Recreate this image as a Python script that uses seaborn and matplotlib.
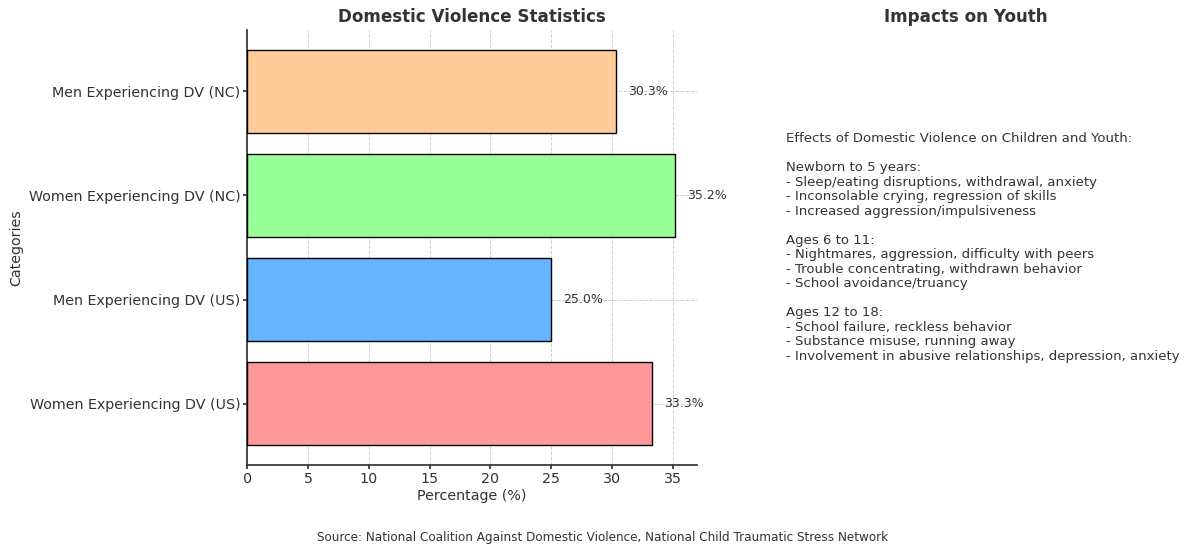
import matplotlib
matplotlib.use("Agg")
import matplotlib.pyplot as plt
import seaborn as sns
import pandas as pd

categories = ["Women Experiencing DV (US)", "Men Experiencing DV (US)",
              "Women Experiencing DV (NC)", "Men Experiencing DV (NC)"]
percentages = [33.3, 25.0, 35.2, 30.3]
colors = ["#ff9999", "#66b3ff", "#99ff99", "#ffcc99"]

youth_text = (
    "Effects of Domestic Violence on Children and Youth:\n\n"
    "Newborn to 5 years:\n"
    "- Sleep/eating disruptions, withdrawal, anxiety\n"
    "- Inconsolable crying, regression of skills\n"
    "- Increased aggression/impulsiveness\n\n"
    "Ages 6 to 11:\n"
    "- Nightmares, aggression, difficulty with peers\n"
    "- Trouble concentrating, withdrawn behavior\n"
    "- School avoidance/truancy\n\n"
    "Ages 12 to 18:\n"
    "- School failure, reckless behavior\n"
    "- Substance misuse, running away\n"
    "- Involvement in abusive relationships, depression, anxiety"
)
source = "Source: National Coalition Against Domestic Violence, National Child Traumatic Stress Network"

sns.set_theme(style="ticks")
plt.rcParams["font.family"] = ["DejaVu Sans"]
text_color = "#333333"

df = pd.DataFrame({"category": categories, "pct": percentages})
order = categories[::-1]
palette = dict(zip(categories, colors))

fig = plt.figure(figsize=(12, 5.53), dpi=100)
ax = fig.add_axes([0.206, 0.159, 0.375, 0.787])
ax2 = fig.add_axes([0.655, 0.159, 0.30, 0.787])

sns.barplot(data=df, y="category", x="pct", hue="category", order=order,
            hue_order=order, palette=palette, saturation=1, edgecolor="black",
            linewidth=1, width=0.8, legend=False, ax=ax, zorder=3)
ax.set_xlim(0, 37)
ax.set_ylim(3.59, -0.59)
ax.set_xticks(range(0, 40, 5))
ax.grid(True, linestyle="--", color="#d0d0d0", linewidth=0.7, zorder=0)
ax.set_axisbelow(True)
sns.despine(ax=ax)
ax.spines["left"].set_color(text_color)
ax.spines["bottom"].set_color(text_color)
ax.tick_params(colors=text_color, labelsize=10.3, length=3, pad=2)
ax.set_xlabel("Percentage (%)", fontsize=10.3, color=text_color, labelpad=2)
ax.set_ylabel("Categories", fontsize=10.3, color=text_color, labelpad=4)
ax.set_title("Domestic Violence Statistics", fontsize=12.1, fontweight="bold",
             color=text_color, pad=6)

vals = df.set_index("category").loc[order, "pct"].tolist()
for patch, val in zip(ax.patches, vals):
    y = patch.get_y() + patch.get_height() / 2
    ax.text(patch.get_width() + 1, y, f"{val:.1f}%", va="center", ha="left",
            fontsize=9, color=text_color)

ax2.axis("off")
ax2.set_title("Impacts on Youth", fontsize=12.1, fontweight="bold",
              color=text_color, pad=6)
ax2.text(0.0, 0.5, youth_text, transform=ax2.transAxes, ha="left", va="center",
         fontsize=9.5, color=text_color, linespacing=1.15)

fig.text(0.502, 0.028, source, ha="center", va="center", fontsize=8.65,
         color=text_color)

fig.savefig("out.png", dpi=100)
